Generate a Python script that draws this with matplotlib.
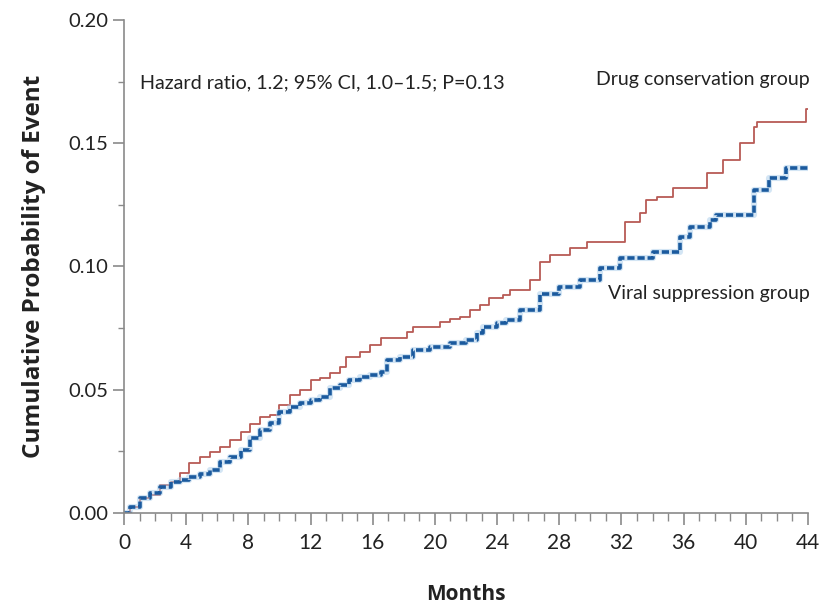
import matplotlib
matplotlib.use("Agg")
import matplotlib.pyplot as plt
from matplotlib.ticker import MultipleLocator

plt.rcParams['font.family'] = ['Lato', 'DejaVu Sans']

# Drug conservation group (step times in months, cumulative probability)
drug_t = [0, 0.4, 1.0, 1.7, 2.3, 3.0, 3.6, 4.2, 4.9, 5.5, 6.2, 6.8, 7.5, 8.1, 8.75,
          9.4, 10.0, 10.7, 11.3, 12.0, 12.6, 13.25, 13.9, 14.3, 15.2, 15.8, 16.5,
          18.2, 18.6, 20.3, 21.0, 21.6, 22.25, 22.9, 23.5, 24.4, 24.8, 26.1, 26.75,
          27.4, 28.7, 29.8, 32.2, 33.2, 33.6, 34.3, 35.3, 37.5, 38.5, 39.6, 40.5,
          40.7, 43.9, 44]
drug_v = [0, 0.0026, 0.006, 0.0073, 0.0114, 0.0127, 0.0162, 0.0202, 0.0228, 0.0249,
          0.0269, 0.0296, 0.033, 0.0362, 0.039, 0.0398, 0.0438, 0.0479, 0.0499,
          0.054, 0.0547, 0.0568, 0.0593, 0.0634, 0.0654, 0.0682, 0.071, 0.0736,
          0.0756, 0.0776, 0.0787, 0.0797, 0.0823, 0.0844, 0.0872, 0.0884, 0.0905,
          0.0945, 0.102, 0.1047, 0.1075, 0.110, 0.118, 0.1217, 0.127, 0.128, 0.132,
          0.138, 0.143, 0.150, 0.1566, 0.1586, 0.164, 0.164]

# Viral suppression group
viral_t = [0, 0.4, 1.0, 1.7, 2.3, 3.0, 3.6, 4.2, 4.9, 5.5, 6.2, 6.8, 7.5, 8.1, 8.75,
           9.4, 10.0, 10.7, 11.3, 12.0, 12.6, 13.25, 13.9, 14.5, 15.2, 15.8, 16.5,
           16.9, 17.75, 18.6, 19.7, 21.0, 22.0, 22.7, 23.1, 24.0, 24.6, 25.5, 26.75,
           28.0, 29.3, 30.6, 31.9, 34.0, 35.75, 36.4, 37.7, 38.1, 40.5, 41.5, 42.6, 44]
viral_v = [0, 0.0026, 0.006, 0.0081, 0.0107, 0.0127, 0.0134, 0.0147, 0.016, 0.0174,
           0.0208, 0.0228, 0.0256, 0.0304, 0.0337, 0.0365, 0.0411, 0.0431, 0.0446,
           0.0458, 0.0472, 0.0507, 0.0519, 0.054, 0.0553, 0.056, 0.0573, 0.062,
           0.0634, 0.066, 0.0675, 0.069, 0.070, 0.073, 0.0756, 0.077, 0.0783, 0.0824,
           0.089, 0.0917, 0.0945, 0.0994, 0.1034, 0.106, 0.112, 0.116, 0.119, 0.121,
           0.131, 0.136, 0.140, 0.140]

x_ticks = list(range(0, 45, 4))
y_ticks = [0.00, 0.05, 0.10, 0.15, 0.20]

fig = plt.figure(figsize=(8.35, 6.04), dpi=100)
ax = fig.add_axes([0.1485, 0.1507, 0.8192, 0.8162])

ax.step(drug_t, drug_v, where='post', color='#b85a55', lw=1.3)
ax.step(viral_t, viral_v, where='post', color='#a9cdeb', lw=4.4, alpha=0.5)
ax.step(viral_t, viral_v, where='post', color='#1b5a9e', lw=2.6,
        linestyle=(0, (2.0, 0.8)))

ax.set_xlim(0, 44)
ax.set_ylim(0, 0.20)
ax.set_xticks(x_ticks)
ax.set_yticks(y_ticks)
ax.set_yticklabels([f"{v:.2f}" for v in y_ticks])
ax.xaxis.set_minor_locator(MultipleLocator(1))
ax.yaxis.set_minor_locator(MultipleLocator(0.025))

for s in ['top', 'right']:
    ax.spines[s].set_visible(False)
for s in ['left', 'bottom']:
    ax.spines[s].set_color('#8a8a8a')
    ax.spines[s].set_linewidth(1.2)

ax.tick_params(axis='x', which='major', direction='out', length=8.5, width=1.2,
               color='#8a8a8a', labelsize=15, labelcolor='#222222', pad=6)
ax.tick_params(axis='x', which='minor', direction='out', length=6, width=1.0,
               color='#8a8a8a')
ax.tick_params(axis='y', which='major', direction='out', length=8, width=1.2,
               color='#8a8a8a', labelsize=14.5, labelcolor='#222222', pad=3)
ax.tick_params(axis='y', which='minor', direction='out', length=4.5, width=1.0,
               color='#8a8a8a')

ax.set_xlabel('Months', fontsize=15, fontweight='bold', labelpad=22,
              family=['Open Sans', 'DejaVu Sans'], color='#222222')
ax.set_ylabel('Cumulative Probability of Event', fontsize=17.5, fontweight='bold',
              labelpad=16, family=['Open Sans', 'DejaVu Sans'], color='#222222')

ax.text(1.0, 0.1745, 'Hazard ratio, 1.2; 95% CI, 1.0\u20131.5; P=0.13',
        fontsize=14.2, va='center', ha='left', color='#222222')
ax.text(44.1, 0.1757, 'Drug conservation group', fontsize=14, va='center',
        ha='right', color='#222222', clip_on=False)
ax.text(44.1, 0.0892, 'Viral suppression group', fontsize=14, va='center',
        ha='right', color='#222222', clip_on=False)

fig.savefig('out.png', dpi=100)
